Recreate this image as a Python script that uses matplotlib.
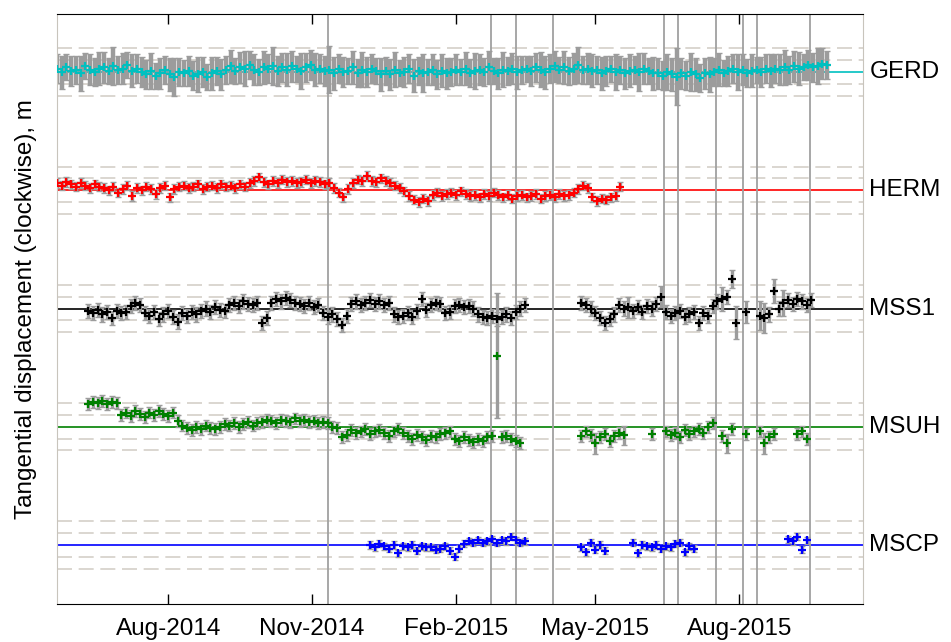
import matplotlib
matplotlib.use('Agg')
import matplotlib.pyplot as plt
import matplotlib.dates as mdates
import matplotlib.transforms as mtransforms
import numpy as np

nan = np.nan

plt.rcParams['font.family'] = ['Liberation Sans', 'DejaVu Sans']

stations = ['GERD', 'HERM', 'MSS1', 'MSUH', 'MSCP']
colors = ['#00c0c0', '#ff0000', '#000000', '#008000', '#0000ff']
bar_widths = [3.2, 2.4, 2.4, 2.4, 2.4]
station_gap = 0.1          # m between stacked station reference lines
guide_mm = [-20, -10, 10, 20]
day_step = 3               # days between samples

# event dates (vertical markers)
events = ['2014-11-11', '2015-02-23', '2015-03-11', '2015-04-04', '2015-06-14',
          '2015-06-23', '2015-07-17', '2015-08-03', '2015-08-12', '2015-09-15']

tick_dates = ['2014-08-01', '2014-11-01', '2015-02-01', '2015-05-01', '2015-08-01']
x_range = ['2014-05-22', '2015-10-19']

# tangential displacement, mm about each station's reference line
gerd_start = '2014-05-22'
gerd_mm = [3, 0, 4, 1, 2, -1, 5, 2, 0, 3,
           4, 1, 5, 2, 3, 6, 1, 3,
           0, -2, 1, -3, -1, 2, -2, -4, 0, -1, 1, -3, -2, 0, -4, -1, 1, -2,
           2, 5, 1, 4, 3, 6, 2, 0, 4, 3, 5, 1,
           4, 2, 5, 3, 1, 4, 6, 2, 3, 1,
           2, -1, 3, 0, 1, 4, -1, 2, 0, 3, 1, -2,
           1, -2, 2, -1, 0, 3, -3, 1, -1, 0, 2, -2, 1, -1, 0,
           2, 0, 3, -1, 1, 2, 0, 4, 1, -1, 2, 1, 3, 0, 2,
           3, 1, 4, 2, 0, 3, 5, 2, 4, 1, 3, 6, 2, 3, 1,
           2, -1, 1, 3, 0, 2, -1, 1, 2, 0, 3, 1, -1,
           -1, -3, 0, -2, -4, -1, -3, 0, -2, -5, -1, -2,
           0, 2, -1, 1, 3, 0, 2, -1, 1, 2, 0, 3,
           1, 3, 2, 4, 2, 5, 3, 4, 6, 4, 5, 7, 6]
gerd_err = [12, 14, 11, 13, 12, 15, 11, 13, 12, 14,
            13, 11, 16, 12, 13, 11, 14, 12,
            13, 12, 15, 11, 13, 12, 14, 16, 12, 11, 13, 12, 15, 13, 11, 14, 12, 13,
            12, 14, 11, 13, 15, 12, 13, 11, 14, 12, 16, 13,
            12, 14, 13, 11, 15, 12, 13, 14, 12, 13,
            20, 14, 12, 13, 11, 14, 12, 15, 13, 12, 11, 14,
            12, 13, 15, 11, 13, 12, 14, 12, 16, 11, 13, 12, 14, 13, 12,
            13, 11, 14, 12, 15, 13, 12, 14, 11, 13, 15, 12, 13, 14, 12,
            11, 13, 12, 15, 14, 12, 13, 11, 14, 12, 13, 15, 12, 13, 14,
            12, 14, 13, 11, 15, 12, 13, 14, 12, 16, 13, 11, 14,
            13, 12, 15, 14, 24, 13, 12, 16, 14, 12, 13, 15,
            12, 14, 11, 13, 12, 15, 13, 12, 14, 11, 13, 12,
            14, 12, 13, 15, 12, 13, 14, 11, 13, 12, 15, 13, 12]

herm_start = '2014-05-22'
herm_mm = [6, 4, 7, 5, 3, 6, 4, 2, 5, 3,
           2, 0, 3, -2, 1, 4, -5, 2, 0, 3, 1, -3, 2, 4, -6, 1, 3,
           4, 2, 3, 5, 1, 3, 4, 2, 5, 3,
           4, 2, 5, 3, 6, 8,
           11,
           7, 5, 8, 6, 9, 7, 8, 6, 7, 9, 6, 8, 7, 5, 6,
           2, -2, -6, 1,
           6, 9, 8, 12, 8, 7, 10, 8, 6,
           4, 2, -1,
           -5, -8, -10, -7, -9,
           -4, -2, -5, -3,
           -2, -4, -1, -3, -5,
           -4, -6, -3, -5, -2, -4,
           -6, -4, -7, -5,
           -4, -6, -5, -3, -7, -5, -4, -6,
           -3, -5, -4, -2,
           1, 4, 2,
           -6, -9, -7, -8, -6, -5,
           3]
herm_err = 4

mss1_start = '2014-06-11'
mss1_mm = [-2, -4, -1, -5, -3, -8, -2, -4, -3,
           2, 5, 3,
           -4, -6, -3, -9, -5, -2, -7, -11, -4, -6, -3, -5,
           -2, 0, -3, 1, -1, -2,
           3, 5, 2, 6, 4, 3, 5,
           -12, -8,
           5, 8, 6, 9, 7, 5,
           4, 2, 5, 1, 3,
           -4, -7, -5, -9,
           -14, -6,
           4, 6, 3, 5, 7, 4, 6, 3, 5,
           -5, -7, -6, -4, -7,
           -2, 8, -1,
           3, 5, 4,
           -4, -3,
           2, 3, 1, 2, 0,
           -5, -7, -8, -6, -9, -7, -5, -8,
           -3, 0, 3,
           nan, nan, nan, nan, nan, nan, nan, nan, nan, nan, nan,
           5, 3, 0, -4, -8, -12, -9, -5, 3, 0, 1,
           -2, 1, -3, 2, 0, 4, 10,
           -3, -6, -4, -2, -7, -5, -3, -12, -4, -6,
           2, 6, 8, 10, 25, -12,
           nan, -3, nan, nan,
           -6, -8, -5, 15, 0, 5, 7, 4, 8, 6, 3, 7]
mss1_err = 6
mss1_wide_idx = [115, 122, 135, 137, 138, 140, 143, 144, 146, 148]
mss1_wide_err = [9, 9, 10, 8, 14, 9, 12, 13, 10, 11]

msuh_start = '2014-06-11'
msuh_mm = [19, 21, 20, 22, 19, 21, 20,
           10, 12, 9, 13, 11, 8, 12, 10, 13, 11, 9, 12,
           5, 1,
           -1, -3, 0, -2, 1, -1, -2, 0,
           2, 1, 3, 0, 2, 4, 1, 3,
           4, 6, 5, 3, 6, 5, 4, 7, 5, 6, 4, 5, 3, 4, 3,
           0, -1,
           -9, -7,
           -3, -5, -4, -2, -6, -4, -3, -5, -8, -4, -2, -5,
           -8, -10, -7, -9, -11, -8, -9, -6,
           -5, -4,
           -10, -12, -9, -11, -13, -10, -12, -9,
           -8,
           60,
           -9, -8, -10,
           -12, -14,
           nan, nan, nan, nan, nan, nan, nan, nan, nan, nan, nan, nan,
           -8, -4, -7, -14, -9, -6, -12, -8, -5, -7,
           nan, nan, nan, nan, nan,
           -6,
           nan, nan,
           -4, -7, -5, -9, -3, -6, -4, -2, -5, 0, 3,
           nan,
           -8, -14,
           -2,
           nan, nan,
           -6,
           nan, nan,
           -4, -14, -9, -6,
           nan, nan, nan, nan,
           -6, -4, -10]
msuh_err = 5
msuh_wide_idx = [87, 108, 114, 136, 144]
msuh_wide_err = [53, 9, 8, 8, 9]

mscp_start = '2014-12-08'
mscp_mm = [0, -2, 1, -1, -3, 0, -7, -1, -2, 0, -5, -1, -2,
           -2, -4, -3, -1, -5, -10, -3,
           1, 3, 2, 4, 2, 3, 5, 2, 4, 3, 7, 4, 2, 3,
           nan, nan, nan, nan, nan, nan, nan, nan, nan, nan, nan,
           -2, -6, 2, -4, 0, -5,
           nan, nan, nan, nan, nan,
           2, -7, 0, -1, -2, 0, -3, -1, -2, 1, 2, -6, -1, -3,
           nan, nan, nan, nan, nan, nan, nan, nan, nan, nan,
           nan, nan, nan, nan, nan, nan, nan, nan, nan,
           5, 3, 7, -4, 4]
mscp_err = 3


def sample_dates(start, n):
    return np.datetime64(start) + np.arange(n) * np.timedelta64(day_step, 'D')


def spread(base, n, idx=(), wide=()):
    e = np.full(n, float(base))
    e[list(idx)] = wide
    return e


series = [
    (gerd_start, gerd_mm, np.array(gerd_err, float)),
    (herm_start, herm_mm, spread(herm_err, len(herm_mm))),
    (mss1_start, mss1_mm, spread(mss1_err, len(mss1_mm), mss1_wide_idx, mss1_wide_err)),
    (msuh_start, msuh_mm, spread(msuh_err, len(msuh_mm), msuh_wide_idx, msuh_wide_err)),
    (mscp_start, mscp_mm, spread(mscp_err, len(mscp_mm))),
]

fig = plt.figure(figsize=(9.51, 6.42), dpi=100)
ax = fig.add_axes([0.06, 0.059, 0.8475, 0.919])
label_tf = mtransforms.blended_transform_factory(ax.transAxes, ax.transData)

for ev in events:
    ax.axvline(np.datetime64(ev), color='#a0a0a0', lw=1.3, zorder=1.5)

for k, (name, col, bw, (start, mm, err)) in enumerate(
        zip(stations, colors, bar_widths, series)):
    ref = -k * station_gap
    vals = np.array(mm, float)
    t = sample_dates(start, len(vals))
    y = ref + vals / 1000.0
    for g in guide_mm:
        ax.axhline(ref + g / 1000.0, color='#d4d0c8', lw=1.2, ls=(0, (9, 4)), zorder=0)
    ax.axhline(ref, color=col, lw=1.2, zorder=1)
    ax.errorbar(t, y, yerr=err / 1000.0, fmt='none', ecolor='#9c9c9c',
                elinewidth=bw, capsize=2, capthick=1, zorder=2)
    ax.plot(t, y, '+', color=col, ms=5.5, mew=1.6, zorder=3)
    ax.text(1.008, ref, name, transform=label_tf, ha='left', va='center',
            fontsize=17.5)

ax.set_xlim(np.datetime64(x_range[0]), np.datetime64(x_range[1]))
ax.set_ylim(-4.5 * station_gap, 0.49 * station_gap)
ax.set_xticks([np.datetime64(d) for d in tick_dates])
ax.xaxis.set_major_formatter(mdates.DateFormatter('%b-%Y'))
ax.set_yticks([])
ax.tick_params(axis='x', direction='in', top=True, length=7, width=1,
               labelsize=17.5, pad=10)
ax.set_ylabel('Tangential displacement (clockwise), m', fontsize=17.5)
ax.yaxis.set_label_coords(-0.025, 0.5)

for side in ('left', 'right'):
    ax.spines[side].set_color('#c8c4bc')
for side in ('top', 'bottom'):
    ax.spines[side].set_color('black')

fig.savefig('out.png', dpi=100)
